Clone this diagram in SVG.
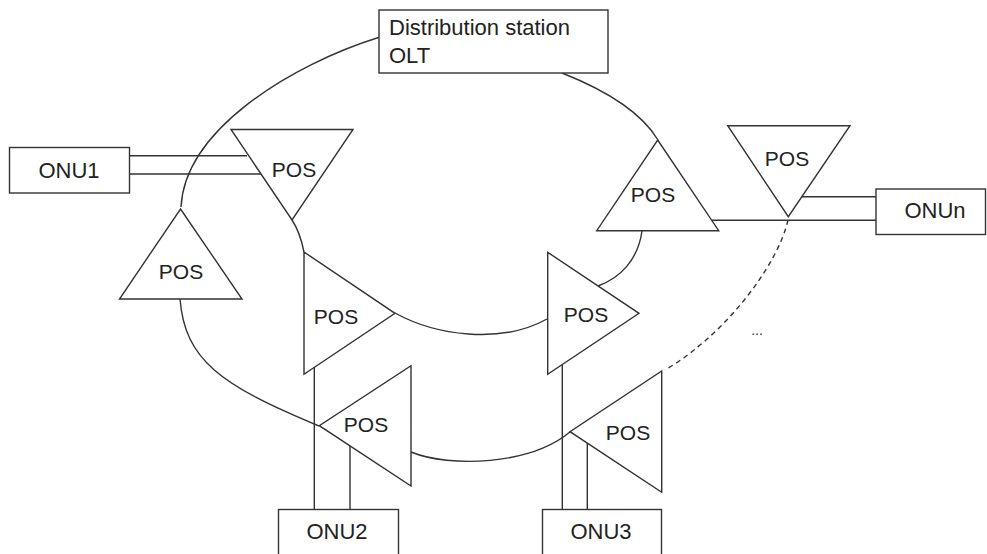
<svg xmlns="http://www.w3.org/2000/svg" width="987" height="554" viewBox="0 0 987 554">
<style>
.box{fill:#fff;stroke:#333;stroke-width:1.4}
.tri{fill:none;stroke:#333;stroke-width:1.4;stroke-linejoin:miter}
.ln{fill:none;stroke:#333;stroke-width:1.4}
.dash{fill:none;stroke:#333;stroke-width:1.4;stroke-dasharray:5 4}
.t{font-family:"Liberation Sans",Arial,sans-serif;font-size:22px;fill:#222}
.p{font-family:"Liberation Sans",Arial,sans-serif;font-size:21px;fill:#222;text-anchor:middle}
.c{text-anchor:middle}
</style>
<rect width="987" height="554" fill="#fff"/>
<g id="connectors">
<path class="ln" d="M380,37 C290,65 185,130 181,207"/>
<path class="ln" d="M562,73 C600,88 640,110 658,140"/>
<path class="ln" d="M292,220 Q300,232 304,252"/>
<path class="ln" d="M180,299 C185,360 220,385 319,426"/>
<path class="ln" d="M395,313 C435,335 500,345 547,319"/>
<path class="ln" d="M642,231 C638,260 620,278 598,286"/>
<path class="ln" d="M411,452 C450,468 530,465 570,432"/>
<path class="dash" d="M788,220 C778,265 725,335 665,370"/>
<path class="ln" d="M129,155.7 H247 M129,174 H261"/>
<path class="ln" d="M802,196.7 H876 M712,220.3 H876"/>
<path class="ln" d="M314.3,367 V509.5 M350,446 V509.5"/>
<path class="ln" d="M562.3,365 V509.5 M587.3,443 V509.5"/>
</g>
<g id="olt">
<rect class="box" x="379" y="10" width="229" height="63"/>
<text class="t" x="389" y="35">Distribution station</text>
<text class="t" x="389" y="63">OLT</text>
</g>
<g id="onu1">
<rect class="box" x="9.5" y="147.5" width="120" height="45.5"/>
<text class="t c" x="69" y="178">ONU1</text>
</g>
<g id="onun">
<rect class="box" x="876" y="189" width="109.5" height="45.5"/>
<text class="t c" x="935" y="218">ONUn</text>
</g>
<g id="onu2">
<rect class="box" x="278.5" y="509.5" width="120" height="46"/>
<text class="t c" x="337" y="539">ONU2</text>
</g>
<g id="onu3">
<rect class="box" x="542.5" y="509.5" width="119" height="46"/>
<text class="t c" x="601" y="539">ONU3</text>
</g>
<g id="pos1">
<polygon class="tri" points="231,129.5 353,129.5 292,220"/>
<text class="p" x="294" y="177">POS</text>
</g>
<g id="pos2">
<polygon class="tri" points="180.5,209 242,299 119.5,299"/>
<text class="p" x="181" y="279">POS</text>
</g>
<g id="pos3">
<polygon class="tri" points="304,252 395,313.3 304,374.3"/>
<text class="p" x="336" y="324">POS</text>
</g>
<g id="pos4">
<polygon class="tri" points="547.7,252.3 639,313.3 547.7,374.3"/>
<text class="p" x="586" y="322">POS</text>
</g>
<g id="pos5">
<polygon class="tri" points="657.7,140 718.7,230.7 596.7,230.7"/>
<text class="p" x="653" y="201.7">POS</text>
</g>
<g id="pos6">
<polygon class="tri" points="727.7,125.7 850,125.7 788.3,216.7"/>
<text class="p" x="787" y="165.7">POS</text>
</g>
<g id="pos7">
<polygon class="tri" points="411,365.7 411,486 319.3,425.7"/>
<text class="p" x="366" y="432.3">POS</text>
</g>
<g id="pos8">
<polygon class="tri" points="661.7,371 661.7,492.3 570,431.7"/>
<text class="p" x="628" y="440">POS</text>
</g>
<text x="757" y="335" font-family="Liberation Sans,Arial,sans-serif" font-size="14" fill="#333" text-anchor="middle">...</text>
</svg>
